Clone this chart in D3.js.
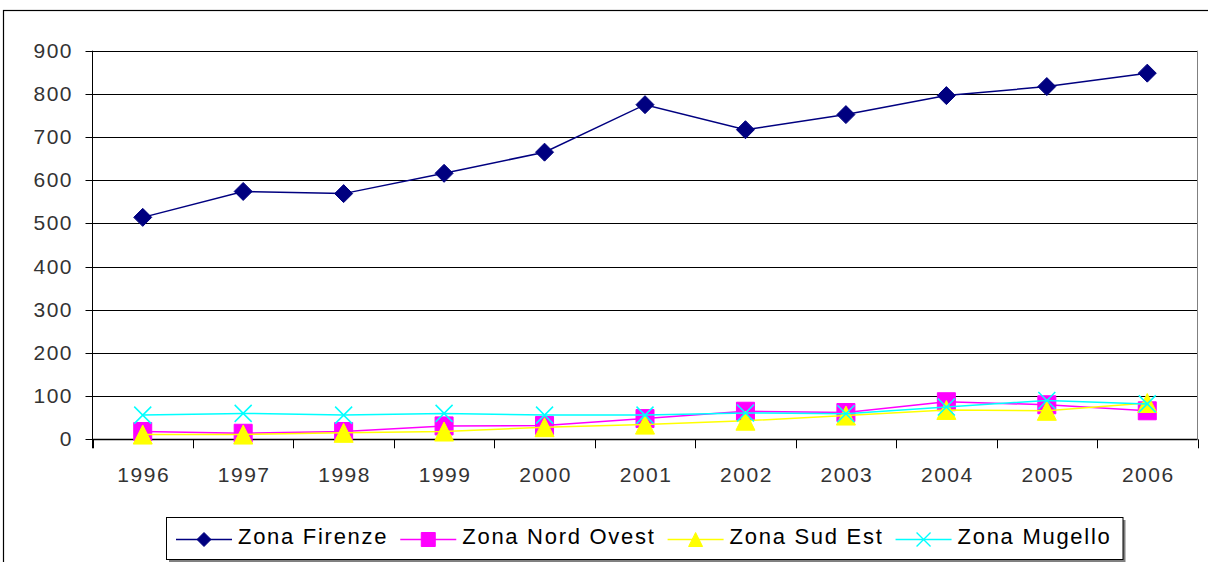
<!DOCTYPE html>
<html>
<head>
<meta charset="utf-8">
<script src="https://cdn.jsdelivr.net/npm/d3@7"></script>
<style>
  html, body { margin: 0; padding: 0; background: #fff; }
  svg { display: block; }
  .lbl { font-family: "Liberation Sans", Arial, sans-serif; font-size: 21px; fill: #333; letter-spacing: 1.5px; }
  .leg { font-family: "Liberation Sans", Arial, sans-serif; font-size: 22px; fill: #000; letter-spacing: 1.72px; }
</style>
</head>
<body>
<svg id="chart" width="1208" height="562"></svg>
<script>
const years = ["1996", "1997", "1998", "1999", "2000", "2001", "2002", "2003", "2004", "2005", "2006"];
const firenze = [514, 574, 569, 616, 665, 775, 717, 752, 796, 817, 848];
const nordOvest = [18, 14, 18, 31, 32, 48, 65, 62, 87, 80, 66];
const sudEst = [11, 11, 15, 18, 28, 34, 43, 55, 68, 66, 84];
const mugello = [56, 60, 56, 60, 56, 56, 61, 59, 75, 90, 82];
const yTicks = [0, 100, 200, 300, 400, 500, 600, 700, 800, 900];

const series = [
  { name: "Zona Firenze", values: firenze, color: "#000080", marker: "diamond" },
  { name: "Zona Nord Ovest", values: nordOvest, color: "#ff00ff", marker: "square" },
  { name: "Zona Sud Est", values: sudEst, color: "#ffff00", marker: "triangle" },
  { name: "Zona Mugello", values: mugello, color: "#00ffff", marker: "cross" }
];

const svg = d3.select("#chart");
const plot = { left: 92.5, right: 1197.5, top: 50.7, bottom: 439.3 };

// outer chart frame (cropped by the window)
svg.append("rect")
  .attr("x", 3.5).attr("y", 10.5)
  .attr("width", 1400).attr("height", 800)
  .attr("fill", "none").attr("stroke", "#000").attr("stroke-width", 1.2);

const x = d3.scaleBand().domain(years).range([plot.left, plot.right]);
const y = d3.scaleLinear().domain([0, 900]).range([plot.bottom, plot.top]);

// gridlines
svg.append("g")
  .selectAll("line")
  .data(yTicks.filter(d => d > 0))
  .enter()
  .append("line")
  .attr("x1", plot.left).attr("x2", plot.right)
  .attr("y1", d => Math.round(y(d)) + 0.5)
  .attr("y2", d => Math.round(y(d)) + 0.5)
  .attr("stroke", "#000").attr("stroke-width", 1);

// right border of plot area
svg.append("line")
  .attr("x1", plot.right).attr("x2", plot.right)
  .attr("y1", y(900)).attr("y2", plot.bottom)
  .attr("stroke", "#808080").attr("stroke-width", 1);

// y axis
const yAxis = svg.append("g");
yAxis.append("line")
  .attr("x1", plot.left).attr("x2", plot.left)
  .attr("y1", y(900)).attr("y2", plot.bottom + 9)
  .attr("stroke", "#000");
yAxis.selectAll(".tick")
  .data(yTicks)
  .enter()
  .append("line")
  .attr("x1", plot.left - 7).attr("x2", plot.left)
  .attr("y1", d => Math.round(y(d)) + 0.5)
  .attr("y2", d => Math.round(y(d)) + 0.5)
  .attr("stroke", "#000");
yAxis.selectAll("text")
  .data(yTicks)
  .enter()
  .append("text")
  .attr("class", "lbl")
  .attr("x", 73)
  .attr("y", d => y(d) + 7)
  .attr("text-anchor", "end")
  .text(d => d);

// x axis
const xAxis = svg.append("g");
xAxis.append("line")
  .attr("x1", plot.left).attr("x2", plot.right)
  .attr("y1", plot.bottom + 0.2).attr("y2", plot.bottom + 0.2)
  .attr("stroke", "#000").attr("stroke-width", 1.6);
xAxis.selectAll(".tick")
  .data(d3.range(years.length + 1))
  .enter()
  .append("line")
  .attr("x1", i => Math.round(plot.left + i * x.step()) + 0.5)
  .attr("x2", i => Math.round(plot.left + i * x.step()) + 0.5)
  .attr("y1", plot.bottom).attr("y2", plot.bottom + 9)
  .attr("stroke", "#000");
xAxis.selectAll("text")
  .data(years)
  .enter()
  .append("text")
  .attr("class", "lbl")
  .attr("x", d => x(d) + x.bandwidth() / 2 + 1)
  .attr("y", 481.5)
  .attr("text-anchor", "middle")
  .text(d => d);

function markerPath(type, s) {
  const h = s / 2;
  if (type === "diamond") return `M0,${-h}L${h},0L0,${h}L${-h},0Z`;
  if (type === "square") return `M${-h},${-h}H${h}V${h}H${-h}Z`;
  if (type === "triangle") return `M0,${-h}L${h},${h}L${-h},${h}Z`;
  return `M${-h},${-h}L${h},${h}M${h},${-h}L${-h},${h}`;
}
const markerSize = { diamond: 18, square: 18, triangle: 19, cross: 17 };

const line = d3.line()
  .x((d, i) => x(years[i]) + x.bandwidth() / 2)
  .y(d => y(d));

series.forEach(s => {
  const g = svg.append("g");
  g.append("path")
    .attr("d", line(s.values))
    .attr("fill", "none")
    .attr("stroke", s.color)
    .attr("stroke-width", 1.5);
  g.selectAll(".m")
    .data(s.values)
    .enter()
    .append("path")
    .attr("transform", (d, i) => `translate(${x(years[i]) + x.bandwidth() / 2},${y(d)})`)
    .attr("d", markerPath(s.marker, markerSize[s.marker]))
    .attr("fill", s.marker === "cross" ? "none" : s.color)
    .attr("stroke", s.color)
    .attr("stroke-width", s.marker === "cross" ? 1.5 : 1);
});

// legend
const legend = svg.append("g");
const legShadow = legend.append("rect")
  .attr("fill", "#808080");
const legBox = legend.append("rect")
  .attr("fill", "#fff").attr("stroke", "#000").attr("stroke-width", 1);

let lx = 176;
const ly = 539.5;
series.forEach(s => {
  const item = legend.append("g");
  item.append("line")
    .attr("x1", lx).attr("x2", lx + 56)
    .attr("y1", ly).attr("y2", ly)
    .attr("stroke", s.color).attr("stroke-width", 1.5);
  item.append("path")
    .attr("transform", `translate(${lx + 28},${ly})`)
    .attr("d", markerPath(s.marker, 14))
    .attr("fill", s.marker === "cross" ? "none" : s.color)
    .attr("stroke", s.color)
    .attr("stroke-width", s.marker === "cross" ? 1.3 : 1);
  const t = item.append("text")
    .attr("class", "leg")
    .attr("x", lx + 62)
    .attr("y", 544.3)
    .text(s.name);
  lx = lx + 62 + t.node().getComputedTextLength() + 12;
});

const boxRight = lx;
legShadow.attr("x", 169).attr("y", 520).attr("width", boxRight - 167).attr("height", 42);
legBox.attr("x", 166.5).attr("y", 517.5).attr("width", boxRight - 167).attr("height", 42);
</script>
</body>
</html>
